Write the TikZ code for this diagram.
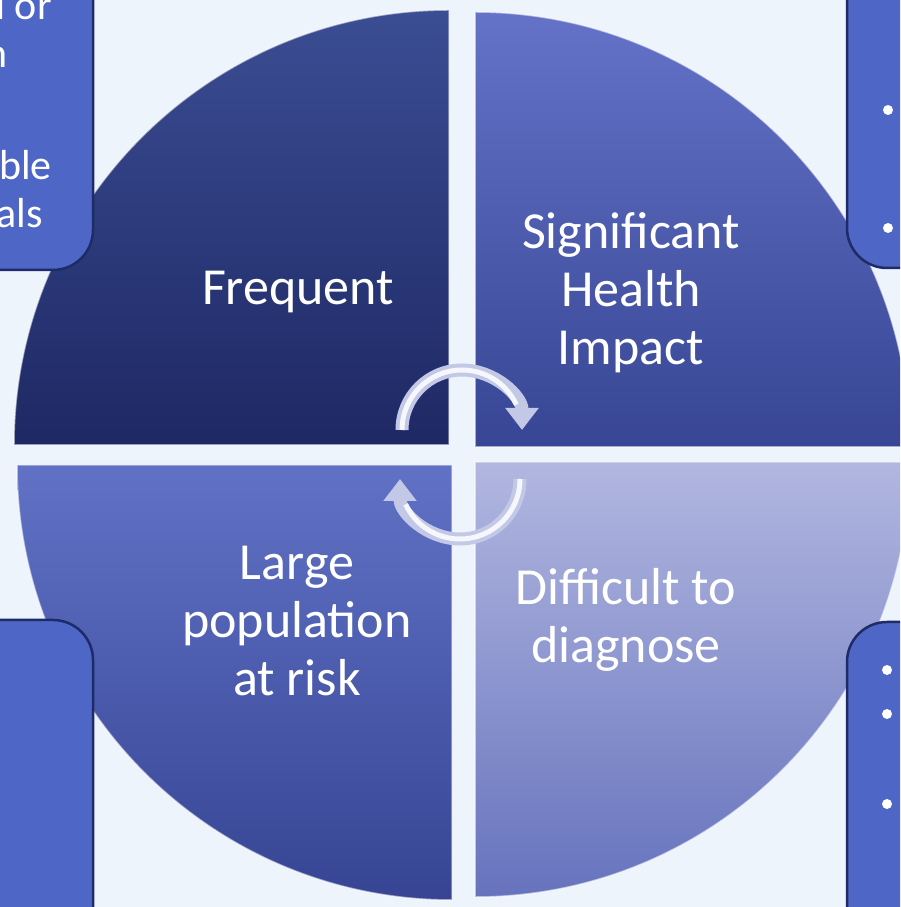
\documentclass[tikz,border=0pt]{standalone}
\usepackage{fontspec}
\setmainfont{Carlito}
\usetikzlibrary{arrows.meta}

\definecolor{slidebg}{HTML}{EEF4FB}
\definecolor{boxfill}{HTML}{4E66C6}
\definecolor{boxedge}{HTML}{1D2B68}
\definecolor{tltop}{HTML}{3B4D93}
\definecolor{tlbot}{HTML}{1E2864}
\definecolor{trtop}{HTML}{6473C8}
\definecolor{trbot}{HTML}{374594}
\definecolor{bltop}{HTML}{6172C6}
\definecolor{blbot}{HTML}{364493}
\definecolor{brtop}{HTML}{B2B7E0}
\definecolor{brbot}{HTML}{6673BD}
\definecolor{arrowrim}{HTML}{C2C8E6}
\definecolor{arrowlit}{HTML}{F5F7FD}

\begin{document}
\begin{tikzpicture}[x=1pt,y=1pt,
  sidebox/.style={fill=boxfill, draw=boxedge, line width=2.5pt, rounded corners=40pt},
  sidetext/.style={text=white, inner sep=0pt, font=\fontsize{42}{50}\selectfont},
  quadtext/.style={text=white, align=center, font=\fontsize{52}{58}\selectfont},
  quadrim/.style={draw=white, draw opacity=0.55, line width=1.5pt},
  cycarrow/.style={line width=13pt, draw=arrowrim, -{Triangle[width=32pt,length=22pt]}},
  cyclit/.style={line width=5pt, draw=arrowlit}]
  \useasboundingbox (0,0) rectangle (900,907);
  \clip (0,0) rectangle (900,907);
  \fill[slidebg] (0,0) rectangle (900,907);

  % the four quarters
  \shadedraw[quadrim, top color=tltop, bottom color=tlbot]
    (449,462) -- (14,462) arc[start angle=180, end angle=90, radius=435] -- cycle;
  \shadedraw[quadrim, top color=trtop, bottom color=trbot]
    (475,460) -- (475,895) arc[start angle=90, end angle=0, radius=435] -- cycle;
  \shadedraw[quadrim, top color=bltop, bottom color=blbot]
    (452,442) -- (17,442) arc[start angle=180, end angle=270, radius=435] -- cycle;
  \shadedraw[quadrim, top color=brtop, bottom color=brbot]
    (475,445) -- (475,10) arc[start angle=270, end angle=360, radius=435] -- cycle;

  \node[quadtext] (freq) at (298,615) {Frequent};
  \node[quadtext] (impact) at (631,614) {Significant\\Health\\Impact};
  \node[quadtext] (risk) at (297,286) {Large\\population\\at risk};
  \node[quadtext] (diag) at (626,287) {Difficult to\\diagnose};

  % cycle arrows in the middle
  \draw[cycarrow] (402,477) arc[start angle=180, end angle=0, radius=60];
  \draw[cyclit] (402,477) arc[start angle=180, end angle=25, radius=60];
  \draw[cycarrow] (520,428) arc[start angle=0, end angle=-180, radius=60];
  \draw[cyclit] (520,428) arc[start angle=0, end angle=-155, radius=60];

  % boxes at the sides, mostly off the page
  \draw[sidebox] (-60,637) rectangle (93,970);
  \draw[sidebox] (847,639) rectangle (960,970);
  \draw[sidebox] (-60,-60) rectangle (93,287);
  \draw[sidebox] (847,-60) rectangle (960,285);

  \node[sidetext, anchor=base east] (lt1) at (52,887) {d or};
  \node[sidetext, anchor=base east] (lt2) at (8,839) {n};
  \node[sidetext, anchor=base east] (lt3) at (52,727) {ble};
  \node[sidetext, anchor=base east] (lt4) at (43,679) {als};

  \fill[white] (888,797) circle (5);
  \fill[white] (888,679) circle (5);
  \fill[white] (887,237) circle (5);
  \fill[white] (887,193) circle (5);
  \fill[white] (887,103) circle (5);
\end{tikzpicture}
\end{document}
